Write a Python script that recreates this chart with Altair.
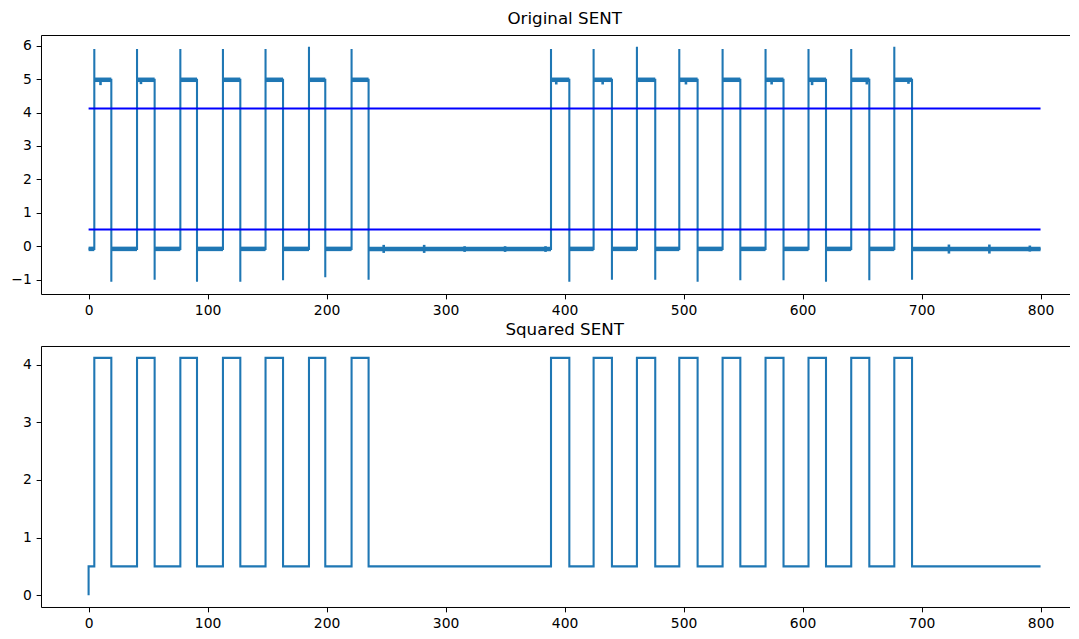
import altair as alt
import pandas as pd

# ---------------- values ----------------
rise_times = [4.8, 40.7, 77.1, 112.9, 148.7, 185.2, 221.0,
              388.6, 424.4, 460.8, 496.4, 532.8, 568.9, 605.0, 640.9, 677.1]
fall_times = [19.1, 55.5, 91.1, 127.5, 163.4, 198.9, 235.3,
              404.0, 439.8, 476.2, 511.8, 547.7, 584.0, 619.7, 656.1, 692.0]
rise_peaks = [5.90, 5.90, 5.90, 5.90, 5.90, 5.97, 5.90,
              5.90, 5.90, 5.97, 5.90, 5.90, 5.90, 5.90, 5.90, 5.97]
fall_troughs = [-1.06, -1.00, -1.06, -1.06, -1.02, -0.93, -1.00,
                -1.06, -1.00, -1.00, -1.06, -1.02, -1.02, -1.06, -1.02, -1.00]
signal_low = -0.08
signal_high = 4.98
x_start = 0
x_end = 800

glitch_x = [10, 44, 248, 282, 316, 350, 384, 393, 432, 502, 574, 608, 654, 689, 723, 757, 791]
glitch_lo = [4.82, 4.85, -0.20, -0.20, -0.17, -0.17, -0.17, 4.84, 4.84, 4.84, 4.84, 4.82,
             4.84, 4.86, -0.22, -0.22, -0.16]
glitch_hi = [4.98, 4.98, 0.04, 0.04, 0.00, 0.00, 0.00, 4.98, 4.98, 4.98, 4.98, 4.98,
             4.98, 4.98, 0.05, 0.05, 0.02]

threshold_levels = [4.12, 0.5]

squared_start = 0.0
squared_low = 0.5
squared_high = 4.12

x_ticks = [0, 100, 200, 300, 400, 500, 600, 700, 800]
top_y_ticks = [-1, 0, 1, 2, 3, 4, 5, 6]
bottom_y_ticks = [0, 1, 2, 3, 4]

# ---------------- tables built from the values ----------------
sig_pts = [(x_start, signal_low)]
for r, f, pk, tr in zip(rise_times, fall_times, rise_peaks, fall_troughs):
    sig_pts += [(r, signal_low), (r, pk), (r, signal_high),
                (f, signal_high), (f, tr), (f, signal_low)]
sig_pts.append((x_end, signal_low))
sig_df = pd.DataFrame({"i": range(len(sig_pts)),
                       "x": [p[0] for p in sig_pts],
                       "y": [p[1] for p in sig_pts]})

plat_x, plat_x2, plat_y = [], [], []
prev = x_start
for r, f in zip(rise_times, fall_times):
    plat_x += [prev, r]
    plat_x2 += [r, f]
    plat_y += [signal_low, signal_high]
    prev = f
plat_x.append(prev)
plat_x2.append(x_end)
plat_y.append(signal_low)
plat_df = pd.DataFrame({"x": plat_x, "x2": plat_x2, "y": plat_y})

glitch_df = pd.DataFrame({"x": glitch_x, "lo": glitch_lo, "hi": glitch_hi})

thr_df = pd.DataFrame({"x": [x_start] * len(threshold_levels),
                       "x2": [x_end] * len(threshold_levels),
                       "y": threshold_levels})

sq_pts = [(x_start, squared_start), (x_start, squared_low)]
for r, f in zip(rise_times, fall_times):
    sq_pts += [(r, squared_low), (r, squared_high), (f, squared_high), (f, squared_low)]
sq_pts.append((x_end, squared_low))
sq_df = pd.DataFrame({"i": range(len(sq_pts)),
                      "x": [p[0] for p in sq_pts],
                      "y": [p[1] for p in sq_pts]})

# ---------------- chart ----------------
BLUE = "#1f77b4"
W = 1029.3
xs = alt.Scale(domain=[-40, 825.0], nice=False, zero=False)
ys_top = alt.Scale(domain=[-1.43, 6.32], nice=False, zero=False)
ys_bot = alt.Scale(domain=[-0.206, 4.326], nice=False, zero=False)


def title(txt):
    return alt.TitleParams(text=txt, fontSize=16.7, font="DejaVu Sans", fontWeight="normal",
                           color="black", anchor="middle", baseline="bottom",
                           offset=-10, frame="group", dx=9)


x_axis_bottom = alt.Axis(values=x_ticks, title=None, domain=True, zindex=1)
x_axis_top = alt.Axis(orient="top", title=None, labels=False, ticks=False, domain=True,
                      minExtent=0, maxExtent=0, zindex=1)


def y_axis(vals):
    return alt.Axis(values=vals, title=None, domain=True, minExtent=30.2, maxExtent=30.2,
                    zindex=1)


sig = alt.Chart(sig_df).mark_line(color=BLUE, strokeWidth=2.08).encode(
    x=alt.X("x:Q", scale=xs, axis=x_axis_bottom),
    y=alt.Y("y:Q", scale=ys_top, axis=y_axis(top_y_ticks)),
    order="i:Q",
)
plat = alt.Chart(plat_df).mark_rule(color=BLUE, strokeWidth=4.5).encode(
    x=alt.X("x:Q", scale=xs, axis=None), x2="x2:Q",
    y=alt.Y("y:Q", scale=ys_top, axis=None),
)
glitch = alt.Chart(glitch_df).mark_rule(color=BLUE, strokeWidth=2.6).encode(
    x=alt.X("x:Q", scale=xs, axis=None),
    y=alt.Y("lo:Q", scale=ys_top, axis=None), y2="hi:Q",
)
thr = alt.Chart(thr_df).mark_rule(color="#0000ff", strokeWidth=2.08).encode(
    x=alt.X("x:Q", scale=xs, axis=x_axis_top), x2="x2:Q",
    y=alt.Y("y:Q", scale=ys_top, axis=None),
)
top = alt.layer(sig, plat, glitch, thr).resolve_axis(
    x="independent", y="independent"
).properties(width=W, height=259, title=title("Original SENT"))

sq = alt.Chart(sq_df).mark_line(color=BLUE, strokeWidth=2.08).encode(
    x=alt.X("x:Q", scale=xs, axis=x_axis_bottom),
    y=alt.Y("y:Q", scale=ys_bot, axis=y_axis(bottom_y_ticks)),
    order="i:Q",
)
sq_frame = alt.Chart(sq_df).mark_line(opacity=0).encode(
    x=alt.X("x:Q", scale=xs, axis=x_axis_top),
    y=alt.Y("y:Q", scale=ys_bot, axis=None),
    order="i:Q",
)
bottom = alt.layer(sq, sq_frame).resolve_axis(
    x="independent", y="independent"
).properties(width=W, height=261, title=title("Squared SENT"))

chart = alt.vconcat(top, bottom, spacing=4).properties(
    padding={"left": 2, "top": 3, "right": 0, "bottom": 0},
    background="white",
).configure_view(strokeWidth=0).configure_axis(
    labelFont="DejaVu Sans", labelFontSize=13.9, labelColor="black",
    tickColor="black", tickSize=4.86, tickWidth=1, labelPadding=4.86,
    domainColor="black", domainWidth=1, grid=False,
)

chart.save("out.html", embed_options={"renderer": "svg", "actions": False})
